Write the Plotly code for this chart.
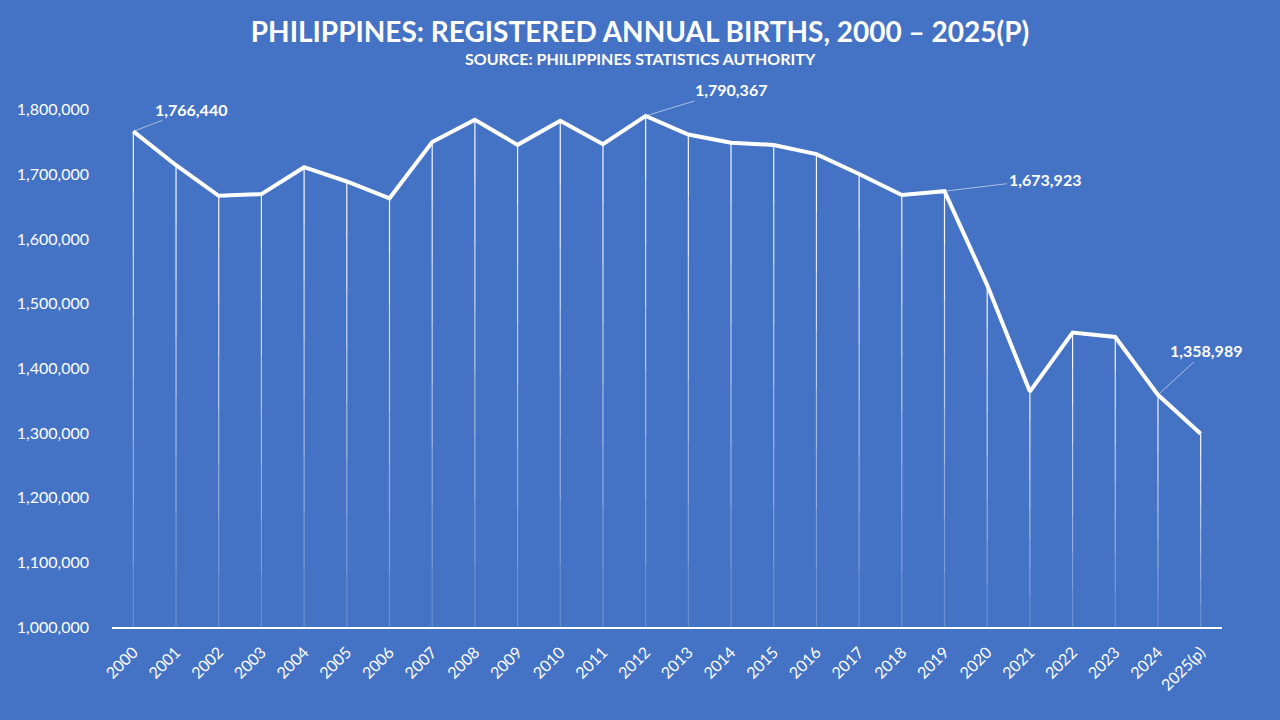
import plotly.graph_objects as go

years = [str(y) for y in range(2000, 2025)] + ["2025(p)"]
births = [1766440, 1714093, 1666773, 1669442, 1710994, 1688918, 1663029,
          1749878, 1784316, 1745585, 1782877, 1746631, 1790367, 1761602,
          1748857, 1745450, 1731289, 1700618, 1668120, 1673923, 1528684,
          1364000, 1455393, 1448522, 1358989, 1299000]
yticks = list(range(1000000, 1800001, 100000))

# which points get a value label, and the label offset in px
labelled = {"2000": (58, -22), "2012": (85, -26), "2019": (100, -12), "2024": (48, -44)}

bg = "#4472C4"
base = 1000000
xs_idx = list(range(len(years)))

fig = go.Figure()

# drop lines, fading towards the axis
steps = 8
for i in range(steps):
    xs, ys = [], []
    for k, v in zip(xs_idx, births):
        top = v - (v - base) * i / steps
        bot = v - (v - base) * (i + 1) / steps
        xs += [k, k, None]
        ys += [top, bot, None]
    fig.add_trace(go.Scatter(x=xs, y=ys, mode="lines", hoverinfo="skip",
                             line=dict(color="rgba(255,255,255,%.2f)" % (0.95 - 0.85 * i / steps), width=1.2),
                             showlegend=False))

fig.add_trace(go.Scatter(x=xs_idx, y=births, mode="lines",
                         line=dict(color="white", width=4), showlegend=False))

for yr, (ax, ay) in labelled.items():
    k = years.index(yr)
    v = births[k]
    fig.add_annotation(x=k, y=v, text="<b>{:,}</b>".format(v), showarrow=True,
                       arrowhead=0, arrowwidth=1, arrowcolor="rgba(255,255,255,0.55)",
                       ax=ax, ay=ay, font=dict(color="white", size=16, family="Lato"))

fig.update_layout(
    width=1280, height=720,
    paper_bgcolor=bg, plot_bgcolor=bg,
    margin=dict(l=112, r=58, t=45, b=93),
    font=dict(family="Lato", color="white"),
    title=dict(text="<b>PHILIPPINES: REGISTERED ANNUAL BIRTHS, 2000 – 2025(P)</b>",
               x=0.5, xanchor="center", y=0.955, yanchor="middle",
               font=dict(size=28, color="white", family="Lato")),
)
fig.add_annotation(text="<b>SOURCE: PHILIPPINES STATISTICS AUTHORITY</b>", xref="paper", yref="paper",
                   x=(640 - 112) / 1110, y=(627 - 58) / 582, yanchor="middle", showarrow=False,
                   font=dict(size=16, color="white", family="Lato"))

fig.update_xaxes(range=[-0.5, len(years) - 0.5], tickvals=xs_idx, ticktext=years,
                 tickangle=-45, tickfont=dict(size=16, color="white"),
                 showgrid=False, zeroline=False, showline=True, linecolor="white", linewidth=1.5,
                 ticks="", ticklabelstandoff=8)
fig.update_yaxes(range=[base, 1900000], tickvals=yticks,
                 tickformat=",", tickfont=dict(size=16, color="white"), showgrid=False,
                 zeroline=False, showline=False, ticklabelstandoff=22)

fig.write_html("out.html", config={"displayModeBar": False},
               post_script="document.body.style.margin='0';")
